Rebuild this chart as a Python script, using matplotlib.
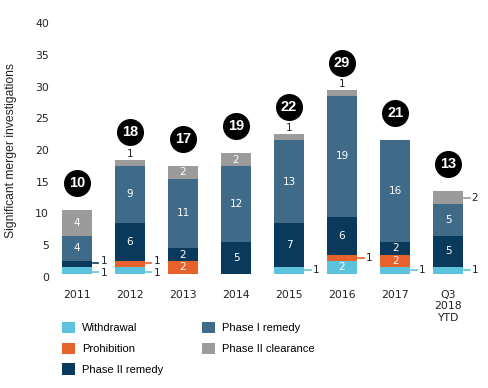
import numpy as np
import matplotlib.pyplot as plt

plt.rcParams['font.family'] = ['Liberation Sans', 'DejaVu Sans']

years = ['2011', '2012', '2013', '2014', '2015', '2016', '2017', 'Q3\n2018\nYTD']
withdrawal = [1, 1, 0, 0, 1, 2, 1, 1]
prohibition = [0, 1, 2, 0, 0, 1, 2, 0]
phase2_remedy = [1, 6, 2, 5, 7, 6, 2, 5]
phase1_remedy = [4, 9, 11, 12, 13, 19, 16, 5]
phase2_clearance = [4, 1, 2, 2, 1, 1, 0, 2]
totals = [10, 18, 17, 19, 22, 29, 21, 13]

names = ['Withdrawal', 'Prohibition', 'Phase II remedy', 'Phase I remedy', 'Phase II clearance']
colors = ['#5cc3dc', '#e6612b', '#0a3a5b', '#3f6b89', '#9b9b9b']
series = [withdrawal, prohibition, phase2_remedy, phase1_remedy, phase2_clearance]

num_font = 'DejaVu Sans'
dark = '#222222'

fig = plt.figure(figsize=(4.88, 3.88), dpi=100)
ax = fig.add_axes([0.1035, 0.2869, 0.869, 0.653])

x = np.arange(len(years))
width = 0.55
base = 0.5
bottom = np.full(len(years), base, dtype=float)
half = width / 2

handles = []
side = {i: [] for i in range(len(years))}
for k, (name, vals, col) in enumerate(zip(names, series, colors)):
    vals = np.array(vals, dtype=float)
    b = ax.bar(x, vals, width, bottom=bottom, color=col, label=name, zorder=2)
    handles.append(b)
    is_top = k == len(series) - 1
    for i, v in enumerate(vals):
        if v == 0:
            continue
        yc = bottom[i] + v / 2
        if (v == 1 and not is_top) or (is_top and i == len(years) - 1):
            side[i].append((yc, int(v), col))
        elif v == 1 and is_top:
            ax.text(x[i], bottom[i] + v + 0.15, '1', ha='center', va='bottom',
                    fontsize=7.5, color=dark, family=num_font)
        else:
            ax.text(x[i], yc, str(int(v)), ha='center', va='center',
                    fontsize=7.5, color='white', family=num_font)
    bottom += vals

# labels at the right of thin segments, spread apart when they sit together
for i, items in side.items():
    ys = [it[0] for it in items]
    if len(ys) == 2 and ys[1] - ys[0] < 1.8:
        mid = (ys[0] + ys[1]) / 2
        ys = [mid - 0.9, mid + 0.9]
    for (yc, v, col), yt in zip(items, ys):
        ax.plot([x[i] + half + 0.02, x[i] + half + 0.13], [(yc + yt) / 2] * 2,
                color=col, lw=1.2, clip_on=False)
        ax.text(x[i] + half + 0.17, yt, str(v), ha='left', va='center',
                fontsize=7.5, color=dark, family=num_font)

circle_y = np.array(totals) + base + 4.3
ax.scatter(x, circle_y, s=340, color='black', zorder=3, clip_on=False)
for i, t in enumerate(totals):
    ax.text(x[i], circle_y[i], str(t), ha='center', va='center', color='white',
            fontsize=10.5, fontweight='bold', zorder=4)

ax.set_xlim(-0.5, len(years) - 0.5)
ax.set_ylim(0, 40)
ax.set_yticks(range(0, 41, 5))
ax.set_xticks(x)
ax.set_xticklabels(years, fontsize=7.8, color=dark, family=num_font)
for lab in ax.get_yticklabels():
    lab.set_family(num_font)
ax.tick_params(axis='y', length=0, pad=1, labelsize=7.8, labelcolor=dark)
ax.tick_params(axis='x', length=0, pad=9.5)
for s in ax.spines.values():
    s.set_visible(False)
ax.set_ylabel('Significant merger investigations', fontsize=8.7, color=dark)
ax.yaxis.set_label_coords(-0.078, 0.5)

fig.legend(handles, names, loc='upper left', bbox_to_anchor=(0.127, 0.17), ncol=2,
           frameon=False, fontsize=8, handlelength=1.2, handleheight=1.2,
           handletextpad=0.6, labelspacing=0.83, columnspacing=3.5,
           borderpad=0, borderaxespad=0)

fig.savefig('out.png', dpi=100)
